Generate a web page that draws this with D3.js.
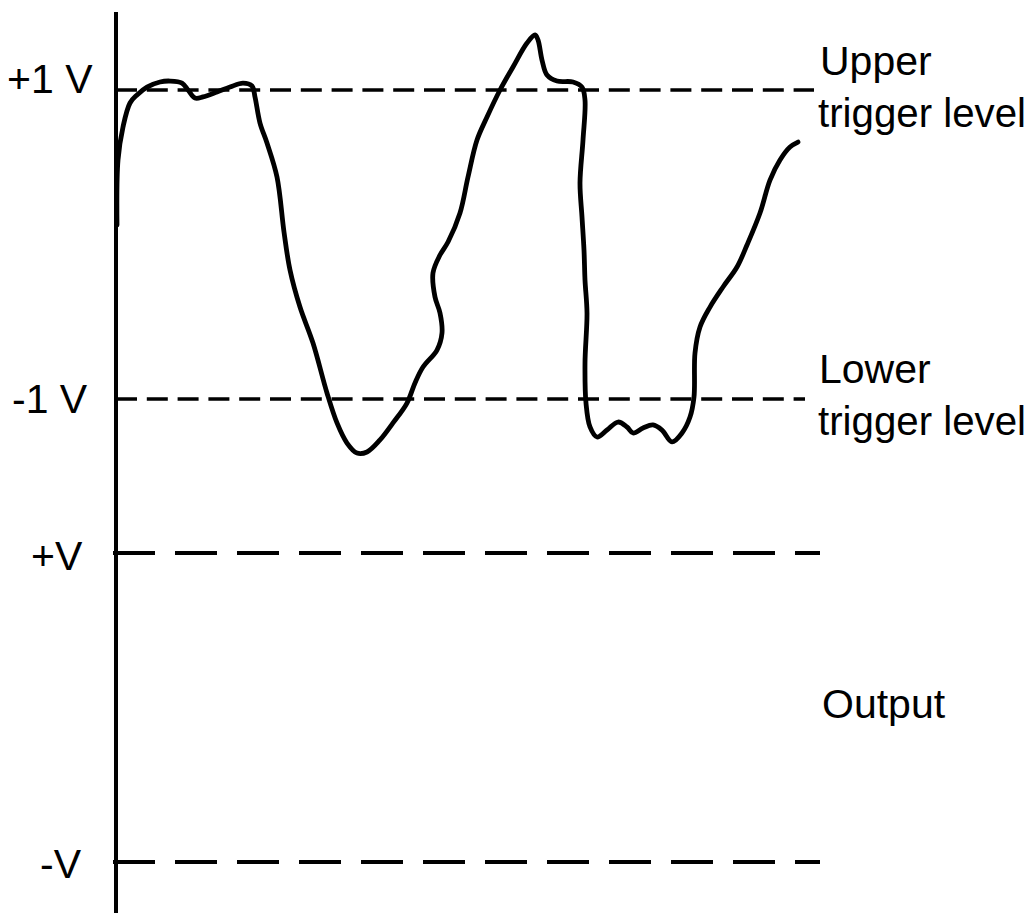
<!DOCTYPE html>
<html>
<head>
<meta charset="utf-8">
<script src="https://cdn.jsdelivr.net/npm/d3@7"></script>
<style>
  html, body { margin: 0; padding: 0; background: #fff; }
  svg { display: block; }
  text { font-family: "Liberation Sans", Arial, sans-serif; fill: #000; }
</style>
</head>
<body>
<svg id="chart" width="1036" height="913"></svg>
<script>
// ---- data ----
// time samples (arbitrary units) of the input waveform
const tValues = [0, 1, 6, 13, 20, 30, 43, 53, 65, 71, 78, 86, 100, 113, 126, 135, 138, 143, 150, 160,
  167, 173, 183, 196, 210, 220, 230, 240, 250, 263, 276, 290, 298, 306, 320, 325, 323, 318, 316, 323,
  331, 343, 351, 360, 370, 383, 396, 410, 418, 421, 425, 430, 440, 456, 465, 468, 466, 463, 465, 467,
  468, 470, 468, 469, 473, 480, 490, 501, 510, 516, 526, 536, 545, 555, 565, 573, 577, 578, 583, 593,
  606, 620, 630, 643, 653, 663, 673, 681];
// input voltage (V) at each sample
const vValues = [0.126, 0.547, 0.761, 0.916, 0.968, 1.019, 1.052, 1.058, 1.045, 1.000, 0.948, 0.955, 0.987, 1.019, 1.045, 1.026, 0.955, 0.786, 0.657, 0.437,
  0.081, -0.165, -0.405, -0.638, -0.961, -1.155, -1.285, -1.350, -1.343, -1.265, -1.155, -1.026, -0.896, -0.793, -0.683, -0.573, -0.443, -0.340, -0.184, -0.068,
  0.016, 0.204, 0.437, 0.676, 0.825, 1.000, 1.149, 1.304, 1.356, 1.324, 1.194, 1.097, 1.058, 1.052, 1.019, 0.935, 0.676, 0.398, 0.178, -0.036,
  -0.230, -0.443, -0.767, -1.026, -1.181, -1.246, -1.201, -1.149, -1.181, -1.220, -1.188, -1.168, -1.201, -1.278, -1.220, -1.117, -0.987, -0.702, -0.534, -0.405,
  -0.275, -0.146, -0.003, 0.204, 0.417, 0.547, 0.631, 0.663];

const inputLevels = [1, -1];            // trigger levels (V)
const inputLabels = ["+1 V", "-1 V"];
const triggerLabels = [["Upper", "trigger level"], ["Lower", "trigger level"]];
const outputLevels = [1, -1];           // output rails (+V, -V)
const outputLabels = ["+V", "-V"];
const outputTitle = "Output";

// ---- scales ----
const svg = d3.select("#chart");
const x = d3.scaleLinear().domain([0, 700]).range([117, 817]);
const yIn = d3.scaleLinear().domain([1, -1]).range([90, 399]);
const yOut = d3.scaleLinear().domain([1, -1]).range([553, 862]);

// ---- trigger level dashed lines ----
const trigEnds = [814, 805];
inputLevels.forEach((v, i) => {
  svg.append("line")
    .attr("x1", 116).attr("x2", trigEnds[i])
    .attr("y1", yIn(v)).attr("y2", yIn(v))
    .attr("stroke", "#000").attr("stroke-width", 3.3)
    .attr("stroke-dasharray", "21,9.8");
});

// ---- output rail dashed lines ----
outputLevels.forEach((v) => {
  svg.append("line")
    .attr("x1", 113).attr("x2", 820)
    .attr("y1", yOut(v)).attr("y2", yOut(v))
    .attr("stroke", "#000").attr("stroke-width", 3.8)
    .attr("stroke-dasharray", "42,20");
});

// ---- vertical axis ----
svg.append("line")
  .attr("x1", 116).attr("x2", 116)
  .attr("y1", 12).attr("y2", 913)
  .attr("stroke", "#000").attr("stroke-width", 4);

// ---- waveform ----
const pts = tValues.map((t, i) => [t, vValues[i]]);
const line = d3.line()
  .x(d => x(d[0]))
  .y(d => yIn(d[1]))
  .curve(d3.curveCatmullRom.alpha(0.5));
svg.append("path")
  .attr("d", line(pts))
  .attr("fill", "none")
  .attr("stroke", "#000")
  .attr("stroke-width", 4.8)
  .attr("stroke-linejoin", "round")
  .attr("stroke-linecap", "round");

// ---- labels ----
const fs = 41;
const leftPos = [[7, 93], [12, 413]];
inputLabels.forEach((lab, i) => {
  svg.append("text").attr("x", leftPos[i][0]).attr("y", leftPos[i][1])
    .attr("font-size", fs).text(lab);
});
const outPos = [[31, 570], [40, 878]];
outputLabels.forEach((lab, i) => {
  svg.append("text").attr("x", outPos[i][0]).attr("y", outPos[i][1])
    .attr("font-size", fs).text(lab);
});
const trigPos = [[[820, 75], [818, 127]], [[819, 383], [818, 435]]];
triggerLabels.forEach((pair, i) => {
  pair.forEach((lab, j) => {
    svg.append("text").attr("x", trigPos[i][j][0]).attr("y", trigPos[i][j][1])
      .attr("font-size", fs).attr("textLength", j === 1 ? 208 : null)
      .attr("lengthAdjust", "spacingAndGlyphs").text(lab);
  });
});
svg.append("text").attr("x", 822).attr("y", 718).attr("font-size", fs).text(outputTitle);
</script>
</body>
</html>
